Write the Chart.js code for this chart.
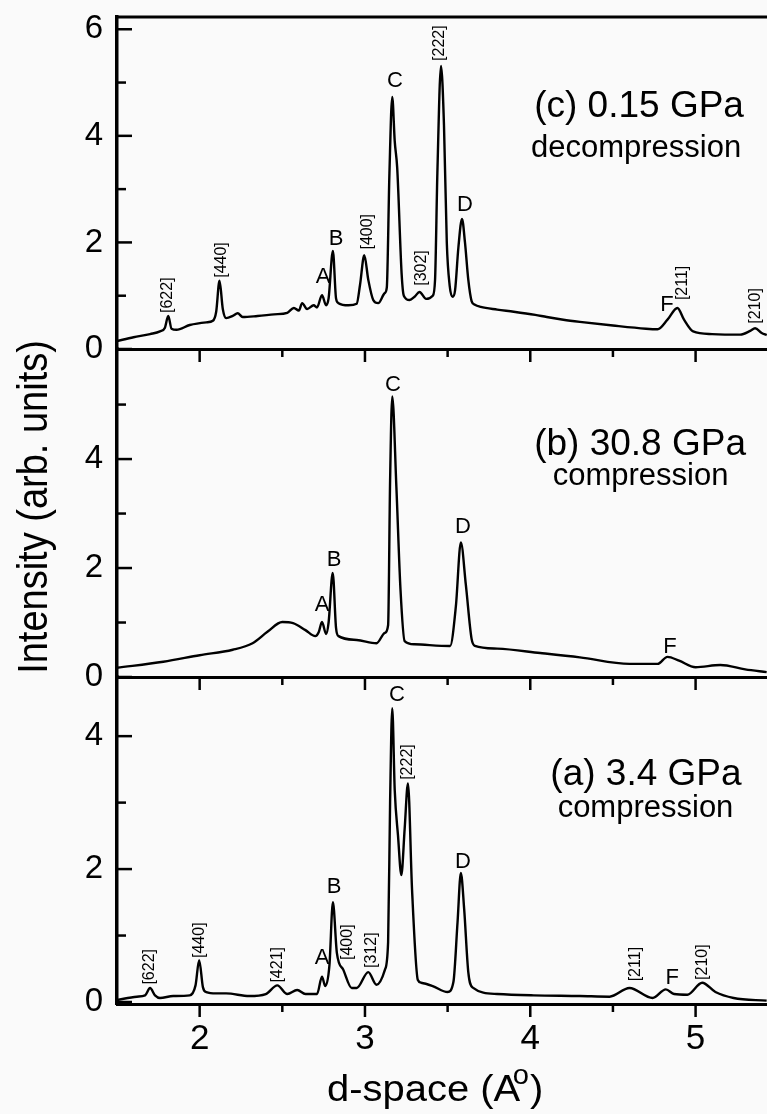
<!DOCTYPE html>
<html><head><meta charset="utf-8">
<script src="https://cdn.jsdelivr.net/npm/chart.js@4.4.0/dist/chart.umd.min.js"></script>
<style>
html,body{margin:0;padding:0;background:#fafafa;}
#wrap{position:relative;width:767px;height:1114px;overflow:hidden;background:#fafafa;}
canvas{position:absolute;left:0;top:0;}
</style></head><body>
<div id="wrap">
<canvas id="cC" width="767" height="1114"></canvas>
<canvas id="cB" width="767" height="1114"></canvas>
<canvas id="cA" width="767" height="1114"></canvas>
</div>
<script>
// ---- data (d-space in Å, intensity in arb. units) ----
const dspaceC = [1.50,1.60,1.70,1.76,1.79,1.81,1.83,1.86,1.94,2.04,2.08,2.10,2.12,2.14,2.16,2.20,2.23,2.26,2.35,2.45,2.53,2.57,2.60,2.62,2.65,2.69,2.71,2.74,2.765,2.78,2.806,2.825,2.84,2.90,2.95,2.97,2.996,3.02,3.05,3.08,3.12,3.132,3.148,3.165,3.18,3.195,3.222,3.235,3.27,3.30,3.33,3.37,3.41,3.424,3.438,3.46,3.478,3.495,3.512,3.53,3.545,3.565,3.587,3.605,3.625,3.645,3.665,3.70,3.80,3.90,4.03,4.10,4.20,4.30,4.50,4.70,4.77,4.83,4.89,4.93,4.985,5.10,5.27,5.33,5.36,5.40,5.43];
const intensityC = [0.15,0.22,0.28,0.33,0.40,0.62,0.38,0.36,0.45,0.50,0.53,0.70,1.28,0.75,0.58,0.62,0.67,0.60,0.62,0.65,0.68,0.77,0.72,0.86,0.75,0.82,0.78,1.01,0.82,0.95,1.84,0.95,0.86,0.82,0.85,1.20,1.76,1.30,0.92,0.86,1.05,1.15,3.30,4.73,3.90,3.40,1.40,1.00,0.92,0.98,1.07,0.94,1.00,1.30,3.30,5.31,4.20,2.00,1.20,0.98,1.10,1.90,2.44,2.00,1.30,0.90,0.83,0.79,0.74,0.70,0.64,0.60,0.55,0.51,0.44,0.38,0.37,0.55,0.77,0.55,0.33,0.28,0.27,0.34,0.39,0.30,0.26];

const dspaceB = [1.50,1.78,2.00,2.20,2.32,2.41,2.50,2.565,2.64,2.70,2.72,2.74,2.765,2.78,2.805,2.825,2.84,2.95,3.07,3.12,3.14,3.152,3.165,3.19,3.215,3.24,3.30,3.515,3.55,3.58,3.61,3.645,3.665,3.80,4.06,4.30,4.60,4.77,4.83,4.90,5.00,5.15,5.30,5.43];
const intensityB = [0.17,0.28,0.40,0.50,0.62,0.83,1.01,0.99,0.86,0.75,0.82,1.01,0.79,1.00,1.91,0.90,0.75,0.68,0.62,0.81,0.95,3.60,5.15,3.49,1.60,0.66,0.60,0.57,1.30,2.47,1.70,0.70,0.57,0.52,0.44,0.36,0.24,0.24,0.37,0.30,0.18,0.22,0.14,0.09];

const dspaceA = [1.50,1.62,1.67,1.70,1.73,1.76,1.84,1.94,1.975,1.997,2.02,2.04,2.10,2.16,2.30,2.40,2.47,2.53,2.59,2.64,2.71,2.74,2.76,2.785,2.806,2.83,2.87,2.92,2.95,3.02,3.07,3.12,3.14,3.152,3.165,3.18,3.20,3.22,3.24,3.26,3.285,3.32,3.34,3.41,3.50,3.535,3.56,3.58,3.60,3.625,3.65,3.80,4.02,4.30,4.48,4.60,4.74,4.82,4.87,4.95,5.04,5.12,5.23,5.43];
const intensityA = [0.03,0.08,0.10,0.21,0.10,0.06,0.09,0.10,0.25,0.63,0.22,0.15,0.13,0.13,0.09,0.12,0.25,0.12,0.18,0.12,0.12,0.38,0.24,0.55,1.50,0.74,0.48,0.21,0.21,0.45,0.26,0.48,0.90,3.00,4.42,3.19,2.50,1.91,2.60,3.29,1.68,0.33,0.29,0.24,0.15,0.30,1.20,1.94,1.40,0.45,0.22,0.12,0.10,0.09,0.08,0.21,0.06,0.19,0.12,0.11,0.29,0.15,0.06,0.02];

const xTickValues = [2, 2.5, 3, 3.5, 4, 4.5, 5];
const xTickLabels = ['2', '3', '4', '5'];
const yTickLabelsC = ['0', '2', '4', '6'];
const yTickLabelsB = ['0', '2', '4'];
const yTickLabelsA = ['0', '2', '4'];

// peak annotations: [text, d-space, intensity, rotated]
const notesC = [['[622]',1.809,1.01,1],['[440]',2.135,1.67,1],['A',2.746,1.35,0],['B',2.825,2.06,0],['[400]',3.018,2.20,1],['C',3.182,5.03,0],['[302]',3.345,1.52,1],['[222]',3.454,5.74,1],['D',3.605,2.70,0],['F',4.827,0.83,0],['[211]',4.924,1.24,1],['[210]',5.36,0.81,1]];
const notesB = [['A',2.740,1.32,0],['B',2.813,2.15,0],['C',3.170,5.36,0],['D',3.593,2.75,0],['F',4.845,0.55,0]];
const notesA = [['[622]',1.70,0.53,1],['[440]',2.002,0.93,1],['[421]',2.474,0.56,1],['A',2.740,0.66,0],['B',2.813,1.73,0],['[400]',2.897,0.90,1],['[312]',3.043,0.78,1],['C',3.194,4.62,0],['[222]',3.260,3.61,1],['D',3.593,2.11,0],['[211]',4.640,0.57,1],['F',4.858,0.36,0],['[210]',5.045,0.60,1]];

const titleC = ['(c) 0.15 GPa', 'decompression'];
const titleB = ['(b) 30.8 GPa', 'compression'];
const titleA = ['(a) 3.4 GPa', 'compression'];

const FONT = "'Liberation Sans', Arial, Helvetica, sans-serif";
const X_MIN = 1.5, X_MAX = 5.432;

const decor = {
  id: 'decor',
  afterDraw(chart, args, o) {
    const ctx = chart.ctx, xs = chart.scales.x, ys = chart.scales.y, ca = chart.chartArea;
    ctx.save();
    ctx.strokeStyle = '#000'; ctx.fillStyle = '#000'; ctx.lineCap = 'butt';
    // y ticks (inward)
    ctx.lineWidth = 2.5;
    for (let v = 0; v <= o.yTickMax; v++) {
      const py = ys.getPixelForValue(v);
      const len = (v % 2 === 0) ? 15 : 9;
      ctx.beginPath(); ctx.moveTo(ca.left, py); ctx.lineTo(ca.left + len, py); ctx.stroke();
    }
    // x ticks (downward)
    xTickValues.forEach(v => {
      const px = xs.getPixelForValue(v);
      const len = Number.isInteger(v) ? 13 : 8;
      ctx.beginPath(); ctx.moveTo(px, ca.bottom); ctx.lineTo(px, ca.bottom + len); ctx.stroke();
    });
    if (o.topBorder) {
      ctx.lineWidth = 3;
      ctx.beginPath(); ctx.moveTo(ca.left, ca.top); ctx.lineTo(ca.right, ca.top); ctx.stroke();
    }
    // peak notes
    ctx.textAlign = 'center'; ctx.textBaseline = 'middle';
    o.notes.forEach(n => {
      const px = xs.getPixelForValue(n[1]), py = ys.getPixelForValue(n[2]);
      if (n[3]) {
        ctx.save(); ctx.translate(px, py); ctx.rotate(-Math.PI / 2);
        ctx.font = '16px ' + FONT; ctx.fillText(n[0], 0, 0); ctx.restore();
      } else {
        ctx.font = '22px ' + FONT; ctx.fillText(n[0], px, py);
      }
    });
    // panel titles
    ctx.textBaseline = 'alphabetic';
    ctx.font = '37px ' + FONT;
    ctx.fillText(o.title[0], xs.getPixelForValue(o.titlePos[0]), ys.getPixelForValue(o.titlePos[1]));
    ctx.font = '31px ' + FONT;
    ctx.fillText(o.title[1], xs.getPixelForValue(o.titlePos[2]), ys.getPixelForValue(o.titlePos[3]));
    if (o.axisTitles) {
      // y title
      ctx.save();
      ctx.translate(35, 507); ctx.scale(1.12, 1); ctx.rotate(-Math.PI / 2);
      ctx.font = '38px ' + FONT; ctx.textAlign = 'center'; ctx.textBaseline = 'middle';
      ctx.fillText('Intensity (arb. units)', 0, 0);
      ctx.restore();
      // x title
      ctx.save();
      ctx.translate(327, 1101); ctx.scale(1.08, 1);
      ctx.textAlign = 'left'; ctx.textBaseline = 'alphabetic';
      ctx.font = '37px ' + FONT;
      const t1 = 'd-space (A';
      ctx.fillText(t1, 0, 0);
      const w = ctx.measureText(t1).width;
      ctx.font = '27px ' + FONT; ctx.fillText('o', w - 7, -17);
      ctx.font = '37px ' + FONT; ctx.fillText(')', w + 9, 0);
      ctx.restore();
    }
    ctx.restore();
  }
};

function pts(xs, ys) { return xs.map((x, i) => ({x: x, y: ys[i]})); }

function panel(id, xs, ys, yMin, yMax, top, bottom, yLabels, showX, deco) {
  const canvas = document.getElementById(id);
  return new Chart(canvas, {
    type: 'line',
    data: { datasets: [{ data: pts(xs, ys), borderColor: '#000', borderWidth: 2.4, pointRadius: 0, fill: false, cubicInterpolationMode: 'monotone' }] },
    options: {
      responsive: false, animation: false, devicePixelRatio: 1,
      layout: { padding: { top: top, left: 0, right: 0, bottom: 0 } },
      plugins: { legend: { display: false }, tooltip: { enabled: false }, decor: deco },
      scales: {
        x: {
          type: 'linear', min: X_MIN, max: X_MAX,
          border: { display: true, color: '#000', width: 3 },
          grid: { display: false, drawTicks: false },
          ticks: {
            display: showX, stepSize: 0.5, includeBounds: false, autoSkip: false, maxRotation: 0,
            color: '#000', font: { family: FONT, size: 35 }, padding: 14,
            callback: v => xTickLabels.includes(String(v)) ? String(v) : ''
          },
          afterFit: s => { s.height = 1114 - bottom; s.paddingLeft = 0; s.paddingRight = 0; s.paddingTop = 0; s.paddingBottom = 0; }
        },
        y: {
          type: 'linear', min: yMin, max: yMax,
          border: { display: true, color: '#000', width: 3.5 },
          grid: { display: false, drawTicks: false },
          ticks: {
            stepSize: 1, includeBounds: false, autoSkip: false,
            color: '#000', font: { family: FONT, size: 33 }, padding: 14,
            callback: v => yLabels.includes(String(v)) ? String(v) : ''
          },
          afterFit: s => { s.width = 117; s.paddingLeft = 0; s.paddingRight = 0; s.paddingTop = 0; s.paddingBottom = 0; }
        }
      }
    },
    plugins: [decor]
  });
}

panel('cC', dspaceC, intensityC, 0, 6.23, 17, 349, yTickLabelsC, false,
  { yTickMax: 6, topBorder: true, notes: notesC, title: titleC, titlePos: [4.658, 4.35, 4.64, 3.60], axisTitles: false });
panel('cB', dspaceB, intensityB, 0, 6.02, 349, 677, yTickLabelsB, false,
  { yTickMax: 5, topBorder: false, notes: notesB, title: titleB, titlePos: [4.664, 4.07, 4.667, 3.52], axisTitles: false });
panel('cA', dspaceA, intensityA, -0.03, 4.89, 677, 1004, yTickLabelsA, true,
  { yTickMax: 4, topBorder: false, notes: notesA, title: titleA, titlePos: [4.70, 3.26, 4.697, 2.78], axisTitles: true });
</script>
</body></html>
